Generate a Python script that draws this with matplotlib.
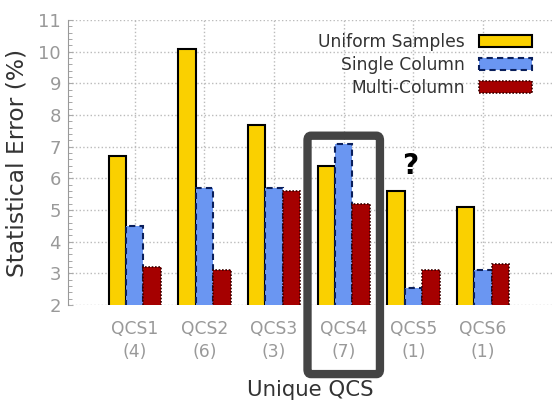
import matplotlib
matplotlib.use('Agg')
import matplotlib.pyplot as plt
import numpy as np
from matplotlib.patches import FancyBboxPatch
from matplotlib.ticker import MultipleLocator

# data
groups = ['QCS1', 'QCS2', 'QCS3', 'QCS4', 'QCS5', 'QCS6']
counts = ['(4)', '(6)', '(3)', '(7)', '(1)', '(1)']
uniform = [6.7, 10.1, 7.7, 6.4, 5.6, 5.1]
single = [4.5, 5.7, 5.7, 7.1, 2.55, 3.1]
multi = [3.2, 3.1, 5.6, 5.2, 3.1, 3.3]

plt.rcParams['font.family'] = ['DejaVu Sans']

fig = plt.figure(figsize=(5.52, 4.03), dpi=100)
ax = fig.add_axes([0.123, 0.243, 0.877, 0.707])

x = np.arange(len(groups))
w = 0.25
ax.bar(x - w, uniform, w, color='#FAD000', edgecolor='black',
       linewidth=1.5, label='Uniform Samples', zorder=3)
ax.bar(x, single, w, color='#6A96F2', edgecolor='#0A1F5C', linewidth=1.5,
       linestyle=(0, (3, 2)), label='Single Column', zorder=3)
ax.bar(x + w, multi, w, color='#A50000', edgecolor='#3A0000', linewidth=1.2,
       linestyle=(0, (1, 1)), label='Multi-Column', zorder=3)

ax.set_ylim(2, 11)
ax.set_xlim(-0.96, 5.99)
ax.yaxis.set_major_locator(MultipleLocator(1))
ax.yaxis.set_minor_locator(MultipleLocator(0.2))
ax.set_xticks(x)
ax.set_xticklabels([g + '\n' + c for g, c in zip(groups, counts)],
                   linespacing=1.35)
ax.tick_params(axis='both', colors='#AAAAAA', labelcolor='#999999',
               labelsize=12.3, direction='in')
ax.tick_params(axis='y', labelsize=13, pad=5)
ax.tick_params(axis='y', which='minor', direction='in', length=3, color='#999999')
ax.tick_params(axis='x', length=0, pad=11)
ax.grid(True, linestyle=':', color='#BBBBBB', linewidth=1, zorder=0)

for s in ['top', 'right']:
    ax.spines[s].set_visible(False)
ax.spines['left'].set_color('#999999')
ax.spines['bottom'].set_visible(False)

ax.set_ylabel('Statistical Error (%)', fontsize=16.8, color='#333333',
              labelpad=7)
ax.set_xlabel('Unique QCS', fontsize=15.3, color='#333333', labelpad=13.5)

leg = ax.legend(loc='upper right', frameon=False, markerfirst=False,
                fontsize=12.3, handlelength=3.1, handleheight=0.7,
                labelspacing=0.3, bbox_to_anchor=(0.99, 1.01))
for t in leg.get_texts():
    t.set_color('#333333')

# highlight box around QCS4 and question mark on QCS5
box = FancyBboxPatch((2.48, -0.18), 1.04, 7.53,
                     boxstyle='round,pad=0,rounding_size=0.05',
                     fill=False, edgecolor='#444444', linewidth=6,
                     clip_on=False, zorder=5, mutation_aspect=3)
ax.add_patch(box)
ax.text(3.95, 6.4, '?', fontsize=20, fontweight='bold', ha='center',
        va='center', color='black', zorder=6)

fig.savefig('out.png', dpi=100)
